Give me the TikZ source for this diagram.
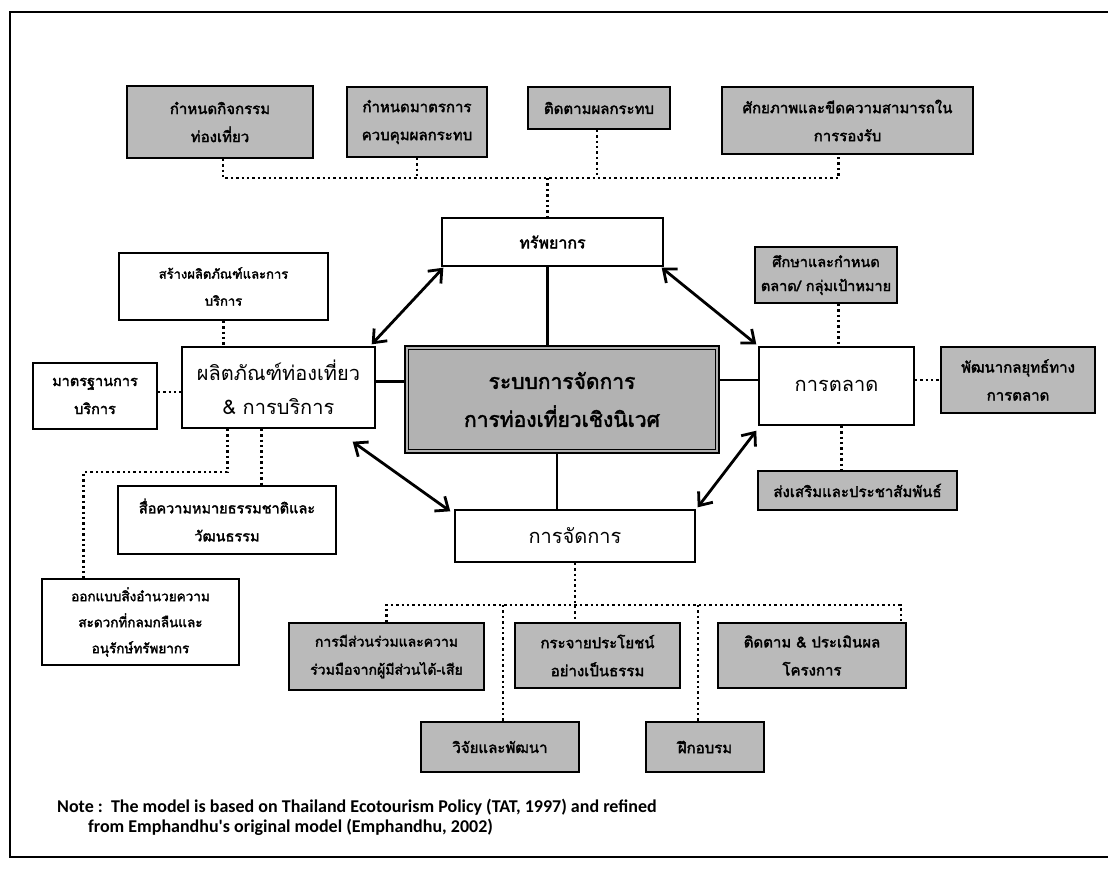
\documentclass[tikz,border=0pt]{standalone}
\usepackage{fontspec}
\usetikzlibrary{arrows.meta}
\newfontfamily\thaifont[Script=Thai]{Loma}
\newfontfamily\thaibold[Script=Thai,FakeBold=2.2]{Loma}
\newfontfamily\notefont{Carlito}
\tikzset{
  gbox/.style={draw, line width=1.5pt, fill=black!27, align=center, inner sep=0pt,
    font=\thaibold\fontsize{15}{28}\selectfont},
  wbox/.style={draw, line width=1.4pt, fill=white, align=center, inner sep=0pt,
    font=\thaibold\fontsize{13}{27}\selectfont},
  bigtext/.style={font=\thaifont\fontsize{20}{34}\selectfont},
  dotline/.style={line width=2.4pt, dash pattern=on 2.4pt off 3pt},
  solidline/.style={line width=2.2pt},
  dbl/.style={line width=2.8pt, {Straight Barb[length=11pt,width=18pt]}-{Straight Barb[length=11pt,width=18pt]}},
}
\begin{document}
\begin{tikzpicture}[x=1pt,y=-1pt]
\useasboundingbox (0,0) rectangle (1108,871);
% frame
\draw[line width=1.8pt] (1110,12) -- (10,12) -- (10,857) -- (1110,857);

% top row
\node[gbox, minimum width=186, minimum height=72] (t1) at (220,122) {กำหนดกิจกรรม\\ท่องเที่ยว};
\node[gbox, minimum width=140, minimum height=70] (t2) at (417,122) {กำหนดมาตรการ\\ควบคุมผลกระทบ};
\node[gbox, minimum width=142, minimum height=42] (t3) at (599,108) {ติดตามผลกระทบ};
\node[gbox, minimum width=251, minimum height=67] (t4) at (847.5,120.5) {ศักยภาพและขีดความสามารถใน\\การรองรับ};

% core
\node[wbox, minimum width=221, minimum height=48, font=\thaibold\fontsize{16}{20}\selectfont] (res) at (552.5,242) {ทรัพยากร};
\node[draw, line width=2.6pt, fill=black!30, minimum width=314, minimum height=107, align=center, inner sep=0pt,
  font=\thaibold\fontsize{21}{38}\selectfont] (center) at (562,399.5) {ระบบการจัดการ\\การท่องเที่ยวเชิงนิเวศ};
\draw[line width=1pt] ([shift={(5,5)}]center.north west) rectangle ([shift={(-5,-5)}]center.south east);
\node[wbox, bigtext, minimum width=193, minimum height=81] (prod) at (278.5,387.5) {ผลิตภัณฑ์ท่องเที่ยว\\\& การบริการ};
\node[wbox, bigtext, minimum width=155, minimum height=78] (mkt) at (836.5,386) {การตลาด};
\node[wbox, bigtext, minimum width=240, minimum height=52] (mgmt) at (575,536) {การจัดการ};

% left side
\node[wbox, minimum width=209, minimum height=67] (create) at (223.5,286.5) {สร้างผลิตภัณฑ์และการ\\บริการ};
\node[wbox, minimum width=124, minimum height=66, font=\thaibold\fontsize{14.5}{28}\selectfont] (std) at (95,396) {มาตรฐานการ\\บริการ};
\node[wbox, minimum width=218, minimum height=68, font=\thaibold\fontsize{14.5}{28}\selectfont] (interp) at (227,520) {สื่อความหมายธรรมชาติและ\\วัฒนธรรม};
\node[wbox, minimum width=197, minimum height=86, font=\thaibold\fontsize{13.5}{26}\selectfont] (design) at (140.5,622) {ออกแบบสิ่งอำนวยความ\\สะดวกที่กลมกลืนและ\\อนุรักษ์ทรัพยากร};

% right side
\node[gbox, minimum width=142, minimum height=56, font=\thaibold\fontsize{14.5}{24}\selectfont] (study) at (826,275) {ศึกษาและกำหนด\\ตลาด/ กลุ่มเป้าหมาย};
\node[gbox, minimum width=154, minimum height=66] (strat) at (1018,380) {พัฒนากลยุทธ์ทาง\\การตลาด};
\node[gbox, minimum width=199, minimum height=39] (promo) at (857.5,490.5) {ส่งเสริมและประชาสัมพันธ์};

% bottom
\node[gbox, minimum width=195, minimum height=67, font=\thaibold\fontsize{14}{28}\selectfont] (part) at (386.5,656.5) {การมีส่วนร่วมและความ\\ร่วมมือจากผู้มีส่วนได้-เสีย};
\node[gbox, minimum width=165, minimum height=65] (dist) at (597.5,655.5) {กระจายประโยชน์\\อย่างเป็นธรรม};
\node[gbox, minimum width=188, minimum height=65] (mon) at (812,655.5) {ติดตาม \& ประเมินผล\\โครงการ};
\node[gbox, minimum width=158, minimum height=50] (rnd) at (500,747) {วิจัยและพัฒนา};
\node[gbox, minimum width=118, minimum height=50] (train) at (705,747) {ฝึกอบรม};

% top dotted tree
\coordinate (ht) at (0,178);
\draw[dotline] ([xshift=3pt]t1.south) -- ([xshift=3pt]t1.south |- ht) -- ([xshift=-9pt]t4.south |- ht) -- ([xshift=-9pt]t4.south);
\draw[dotline] (t2.south) -- (t2.south |- ht);
\draw[dotline] ([xshift=-2pt]t3.south) -- ([xshift=-2pt]t3.south |- ht);
\draw[dotline] ([xshift=-5pt]res.north |- ht) -- ([xshift=-5pt]res.north);

% solid links
\draw[solidline] ([xshift=-5pt]res.south) -- ([xshift=-5pt]res.south |- center.north);
\draw[solidline] ([xshift=-5pt]center.south) -- ([xshift=-5pt]center.south |- mgmt.north);
\draw[solidline] ([yshift=6pt]prod.east) -- ([yshift=6pt]center.west |- prod.east);
\draw[solidline] ([yshift=6pt]center.east |- mkt.west) -- ([yshift=6pt]mkt.west);

% left dotted
\draw[dotline] (create.south) -- (create.south |- prod.north);
\draw[dotline] ([yshift=4pt]std.east) -- ([yshift=4pt]std.east -| prod.west);
\draw[dotline] ([xshift=-51pt]prod.south) -- ([xshift=-51pt]prod.south |- 0,472) -- ([xshift=-57pt]design.north |- 0,472) -- ([xshift=-57pt]design.north);
\draw[dotline] ([xshift=-17pt]prod.south) -- ([xshift=-17pt]prod.south |- interp.north);

% right dotted
\draw[dotline] ([xshift=2pt]mkt.north |- study.south) -- ([xshift=2pt]mkt.north);
\draw[dotline] ([yshift=6pt]mkt.east) -- ([yshift=6pt]mkt.east -| strat.west);
\draw[dotline] ([xshift=5pt]mkt.south) -- ([xshift=5pt]mkt.south |- promo.north);

% bottom dotted tree
\coordinate (hb) at (0,605);
\draw[dotline] (part.north) -- (part.north |- hb) -- ([xshift=-6pt]mon.north east |- hb) -- ([xshift=-6pt]mon.north east);
\draw[dotline] (mgmt.south) -- (mgmt.south |- dist.north);
\draw[dotline] ([xshift=3pt]rnd.north |- hb) -- ([xshift=3pt]rnd.north);
\draw[dotline] ([xshift=-7pt]train.north |- hb) -- ([xshift=-7pt]train.north);

% double arrows
\draw[dbl] ([shift={(-4,-2)}]prod.north east) -- ([shift={(2,1)}]res.south west);
\draw[dbl] ([shift={(-2,1)}]res.south east) -- ([shift={(-2,-2)}]mkt.north west);
\draw[dbl] ([shift={(-23,13)}]prod.south east) -- ([shift={(-4,2)}]mgmt.north west);
\draw[dbl] ([shift={(2,-2)}]mgmt.north east) -- ([shift={(-2,5)}]mkt.south west);

% note
\node[anchor=west, font=\notefont\bfseries\fontsize{18}{20}\selectfont, inner sep=0pt] (note1) at (57,807) {Note :\ \ The model is based on Thailand Ecotourism Policy (TAT, 1997) and refined};
\node[anchor=west, font=\notefont\bfseries\fontsize{18}{20}\selectfont, inner sep=0pt] (note2) at (88,827) {from Emphandhu's original model (Emphandhu, 2002)};
\end{tikzpicture}
\end{document}
